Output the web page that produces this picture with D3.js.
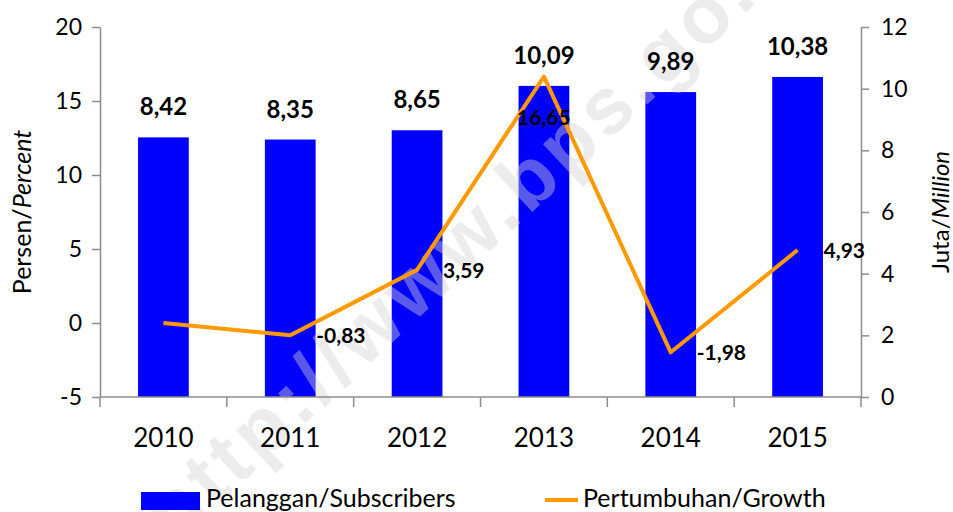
<!DOCTYPE html>
<html>
<head>
<meta charset="utf-8">
<script src="https://cdn.jsdelivr.net/npm/d3@7"></script>
<style>
  body { margin: 0; background: #fff; }
  text { font-family: Lato, "Open Sans", sans-serif; }
</style>
</head>
<body>
<div id="chart"></div>
<script>
// data
var years = ["2010", "2011", "2012", "2013", "2014", "2015"];
var subscribers = [8.42, 8.35, 8.65, 10.09, 9.89, 10.38];   // juta / million
var growth = [0, -0.83, 3.59, 16.65, -1.98, 4.93];          // persen / percent
var growthLabels = [null, "-0,83", "3,59", "16,65", "-1,98", "4,93"];
var leftTicks = [-5, 0, 5, 10, 15, 20];
var rightTicks = [0, 2, 4, 6, 8, 10, 12];

var svgWidth = 953, svgHeight = 512;
var margin = { top: 27, right: 92, bottom: 115, left: 100 };
var width = svgWidth - margin.left - margin.right;
var height = svgHeight - margin.top - margin.bottom;

var svg = d3.select("#chart").append("svg")
    .attr("width", svgWidth)
    .attr("height", svgHeight);

var g = svg.append("g")
    .attr("transform", `translate(${margin.left},${margin.top})`);

var x = d3.scaleBand().domain(years).range([0, width]).padding(0);
var yL = d3.scaleLinear().domain([-5, 20]).range([height, 0]);
var yR = d3.scaleLinear().domain([0, 12]).range([height, 0]);
var barW = x.bandwidth() * 0.4;

// bars
g.selectAll("rect.bar")
    .data(years)
    .enter().append("rect")
    .attr("class", "bar")
    .attr("x", (d) => x(d) + (x.bandwidth() - barW) / 2)
    .attr("width", barW)
    .attr("y", (d, i) => yR(subscribers[i]))
    .attr("height", (d, i) => height - yR(subscribers[i]))
    .attr("fill", "#0000ff");

// watermark (over bars, under line and labels)
svg.append("text")
    .attr("transform", "translate(175,545) rotate(-43)")
    .style("font-size", "80px")
    .style("font-weight", "bold")
    .style("letter-spacing", "5px")
    .style("font-family", "Liberation Sans, sans-serif")
    .attr("fill", "#d4d4d4")
    .attr("opacity", 0.42)
    .text("http://www.bps.go.id");

var fg = svg.append("g")
    .attr("transform", `translate(${margin.left},${margin.top})`);

// bar labels
fg.selectAll("text.barlab")
    .data(years)
    .enter().append("text")
    .attr("x", (d) => x(d) + x.bandwidth() / 2)
    .attr("y", (d, i) => yR(subscribers[i]) - 22)
    .attr("text-anchor", "middle")
    .style("font-size", "24px")
    .style("font-weight", "bold")
    .text((d, i) => subscribers[i].toFixed(2).replace(".", ","));

// axes
var axisColor = "#8c8c8c";
function styleAxis(sel) {
    sel.select(".domain").attr("stroke", axisColor).attr("stroke-width", 1.5);
    sel.selectAll(".tick line").attr("stroke", axisColor).attr("stroke-width", 1.5);
    sel.selectAll(".tick text").style("font-size", "23px").attr("fill", "#000")
        .style("font-family", "Lato, sans-serif");
}

var leftAxis = fg.append("g")
    .call(d3.axisLeft(yL).tickValues(leftTicks).tickFormat((d) => String(d))
        .tickSize(8).tickSizeOuter(0).tickPadding(10));
styleAxis(leftAxis);

var rightAxis = fg.append("g")
    .attr("transform", `translate(${width},0)`)
    .call(d3.axisRight(yR).tickValues(rightTicks).tickFormat((d) => String(d))
        .tickSize(8).tickSizeOuter(0).tickPadding(12));
styleAxis(rightAxis);

// x axis: line at bottom with ticks at category boundaries
var xAxis = fg.append("g").attr("transform", `translate(0,${height})`);
xAxis.append("line")
    .attr("x1", 0).attr("x2", width)
    .attr("stroke", axisColor).attr("stroke-width", 1.5);
xAxis.selectAll("line.bt")
    .data(years.concat(["end"]))
    .enter().append("line")
    .attr("x1", (d, i) => i * x.step())
    .attr("x2", (d, i) => i * x.step())
    .attr("y1", 0).attr("y2", 10)
    .attr("stroke", axisColor).attr("stroke-width", 1.5);
xAxis.selectAll("text")
    .data(years)
    .enter().append("text")
    .attr("x", (d) => x(d) + x.bandwidth() / 2)
    .attr("y", 50)
    .attr("text-anchor", "middle")
    .style("font-size", "26px")
    .text((d) => d);

// growth line
var line = d3.line()
    .x((d, i) => x(years[i]) + x.bandwidth() / 2)
    .y((d) => yL(d));

fg.append("path")
    .datum(growth)
    .attr("d", line)
    .attr("fill", "none")
    .attr("stroke", "#ff9900")
    .attr("stroke-width", 4)
    .attr("stroke-linejoin", "round");

// growth labels (2013 sits below its point)
var growPts = growth.map((v, i) => ({ year: years[i], value: v, label: growthLabels[i], below: i === 3 }))
    .filter((d) => d.label !== null);

fg.selectAll("text.growlab")
    .data(growPts)
    .enter().append("text")
    .attr("x", (d) => x(d.year) + x.bandwidth() / 2 + (d.below ? 0 : 26))
    .attr("y", (d) => yL(d.value) + (d.below ? 48 : 8))
    .attr("text-anchor", (d) => d.below ? "middle" : "start")
    .style("font-size", "21px")
    .style("font-weight", "bold")
    .text((d) => d.label);

// axis titles
var lt = svg.append("text")
    .attr("transform", `translate(31,${margin.top + height / 2}) rotate(-90)`)
    .attr("text-anchor", "middle")
    .style("font-size", "25px");
lt.append("tspan").text("Persen/");
lt.append("tspan").style("font-style", "italic").text("Percent");

var rt = svg.append("text")
    .attr("transform", `translate(949,${margin.top + height / 2}) rotate(-90)`)
    .attr("text-anchor", "middle")
    .style("font-size", "24px");
rt.append("tspan").text("Juta/");
rt.append("tspan").style("font-style", "italic").text("Million");

// legend
var legend = svg.append("g");
legend.append("rect")
    .attr("x", 141).attr("y", 492).attr("width", 59).attr("height", 18)
    .attr("fill", "#0000ff");
legend.append("text")
    .attr("x", 206).attr("y", 507)
    .style("font-size", "25px")
    .text("Pelanggan/Subscribers");
legend.append("line")
    .attr("x1", 545).attr("x2", 578).attr("y1", 500).attr("y2", 500)
    .attr("stroke", "#ff9900").attr("stroke-width", 4);
legend.append("text")
    .attr("x", 583).attr("y", 507)
    .style("font-size", "25px")
    .text("Pertumbuhan/Growth");
</script>
</body>
</html>
